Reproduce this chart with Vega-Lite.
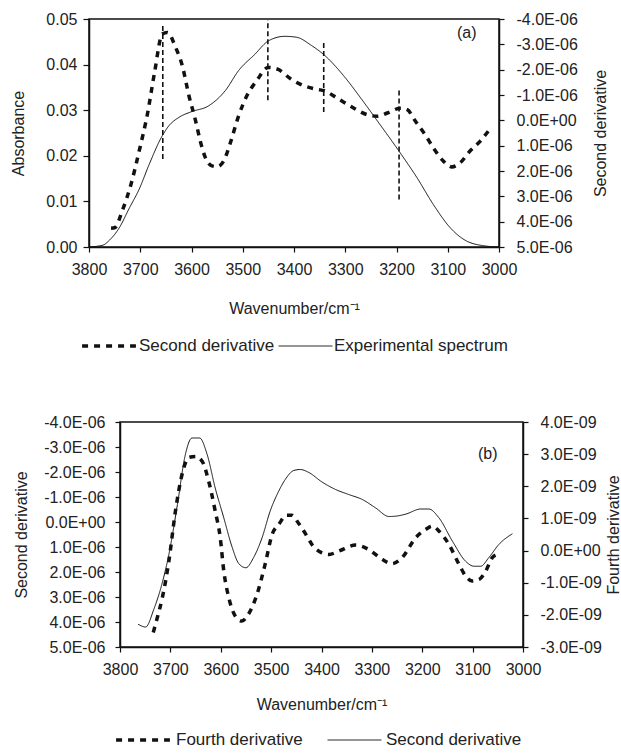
{
  "$schema": "https://vega.github.io/schema/vega-lite/v6.json",
  "background": "white",
  "padding": {"left": 10, "top": 10, "right": 0, "bottom": 0},
  "config": {
    "font": "Liberation Sans",
    "view": {"stroke": "#111", "strokeWidth": 1.5},
    "axis": {
      "grid": false, "domainColor": "#111", "domainWidth": 1.5, "tickColor": "#111", "tickWidth": 1.2,
      "labelFontSize": 16, "titleFontSize": 16, "titleFontWeight": "normal", "labelColor": "#222", "titleColor": "#222",
      "labelFont": "Liberation Sans", "titleFont": "Liberation Sans", "labelOverlap": false, "labelFlush": false, "labelBound": false
    },
    "legend": {"labelFontSize": 17, "labelColor": "#222", "labelFont": "Liberation Sans", "labelLimit": 0, "layout": {"bottom": {"anchor": "middle"}}}
  },
  "datasets": {
    "expA": [
      {"wn": 3800, "abs": 0.0, "series": "Experimental spectrum"},
      {"wn": 3773, "abs": 0.0004, "series": "Experimental spectrum"},
      {"wn": 3760, "abs": 0.0015, "series": "Experimental spectrum"},
      {"wn": 3741, "abs": 0.0042, "series": "Experimental spectrum"},
      {"wn": 3721, "abs": 0.0086, "series": "Experimental spectrum"},
      {"wn": 3702, "abs": 0.0127, "series": "Experimental spectrum"},
      {"wn": 3683, "abs": 0.018, "series": "Experimental spectrum"},
      {"wn": 3657, "abs": 0.0244, "series": "Experimental spectrum"},
      {"wn": 3644, "abs": 0.0266, "series": "Experimental spectrum"},
      {"wn": 3625, "abs": 0.0284, "series": "Experimental spectrum"},
      {"wn": 3602, "abs": 0.0296, "series": "Experimental spectrum"},
      {"wn": 3566, "abs": 0.031, "series": "Experimental spectrum"},
      {"wn": 3534, "abs": 0.0343, "series": "Experimental spectrum"},
      {"wn": 3508, "abs": 0.0387, "series": "Experimental spectrum"},
      {"wn": 3476, "abs": 0.0423, "series": "Experimental spectrum"},
      {"wn": 3450, "abs": 0.0452, "series": "Experimental spectrum"},
      {"wn": 3418, "abs": 0.0462, "series": "Experimental spectrum"},
      {"wn": 3395, "abs": 0.046, "series": "Experimental spectrum"},
      {"wn": 3366, "abs": 0.0442, "series": "Experimental spectrum"},
      {"wn": 3341, "abs": 0.0421, "series": "Experimental spectrum"},
      {"wn": 3302, "abs": 0.0374, "series": "Experimental spectrum"},
      {"wn": 3270, "abs": 0.0327, "series": "Experimental spectrum"},
      {"wn": 3237, "abs": 0.0276, "series": "Experimental spectrum"},
      {"wn": 3195, "abs": 0.021, "series": "Experimental spectrum"},
      {"wn": 3160, "abs": 0.0152, "series": "Experimental spectrum"},
      {"wn": 3128, "abs": 0.0093, "series": "Experimental spectrum"},
      {"wn": 3095, "abs": 0.0042, "series": "Experimental spectrum"},
      {"wn": 3063, "abs": 0.0013, "series": "Experimental spectrum"},
      {"wn": 3025, "abs": 0.0002, "series": "Experimental spectrum"},
      {"wn": 3000, "abs": 0.0, "series": "Experimental spectrum"}
    ],
    "d2A": [
      {"wn": 3757, "val": 4.26e-6, "series": "Second derivative"},
      {"wn": 3750, "val": 4.24e-6, "series": "Second derivative"},
      {"wn": 3734, "val": 3.51e-6, "series": "Second derivative"},
      {"wn": 3718, "val": 2.52e-6, "series": "Second derivative"},
      {"wn": 3702, "val": 1.2e-6, "series": "Second derivative"},
      {"wn": 3686, "val": -0.25e-6, "series": "Second derivative"},
      {"wn": 3672, "val": -1.9e-6, "series": "Second derivative"},
      {"wn": 3657, "val": -3.41e-6, "series": "Second derivative"},
      {"wn": 3647, "val": -3.47e-6, "series": "Second derivative"},
      {"wn": 3631, "val": -2.88e-6, "series": "Second derivative"},
      {"wn": 3618, "val": -2.16e-6, "series": "Second derivative"},
      {"wn": 3605, "val": -0.97e-6, "series": "Second derivative"},
      {"wn": 3592, "val": 0.02e-6, "series": "Second derivative"},
      {"wn": 3583, "val": 0.81e-6, "series": "Second derivative"},
      {"wn": 3573, "val": 1.47e-6, "series": "Second derivative"},
      {"wn": 3560, "val": 1.8e-6, "series": "Second derivative"},
      {"wn": 3550, "val": 1.83e-6, "series": "Second derivative"},
      {"wn": 3537, "val": 1.6e-6, "series": "Second derivative"},
      {"wn": 3525, "val": 0.94e-6, "series": "Second derivative"},
      {"wn": 3508, "val": -0.18e-6, "series": "Second derivative"},
      {"wn": 3492, "val": -0.97e-6, "series": "Second derivative"},
      {"wn": 3473, "val": -1.56e-6, "series": "Second derivative"},
      {"wn": 3450, "val": -2.09e-6, "series": "Second derivative"},
      {"wn": 3432, "val": -2.02e-6, "series": "Second derivative"},
      {"wn": 3406, "val": -1.63e-6, "series": "Second derivative"},
      {"wn": 3380, "val": -1.36e-6, "series": "Second derivative"},
      {"wn": 3354, "val": -1.22e-6, "series": "Second derivative"},
      {"wn": 3341, "val": -1.17e-6, "series": "Second derivative"},
      {"wn": 3316, "val": -0.88e-6, "series": "Second derivative"},
      {"wn": 3283, "val": -0.48e-6, "series": "Second derivative"},
      {"wn": 3257, "val": -0.22e-6, "series": "Second derivative"},
      {"wn": 3237, "val": -0.16e-6, "series": "Second derivative"},
      {"wn": 3218, "val": -0.29e-6, "series": "Second derivative"},
      {"wn": 3192, "val": -0.48e-6, "series": "Second derivative"},
      {"wn": 3179, "val": -0.42e-6, "series": "Second derivative"},
      {"wn": 3163, "val": 0.04e-6, "series": "Second derivative"},
      {"wn": 3144, "val": 0.57e-6, "series": "Second derivative"},
      {"wn": 3128, "val": 1.09e-6, "series": "Second derivative"},
      {"wn": 3108, "val": 1.62e-6, "series": "Second derivative"},
      {"wn": 3092, "val": 1.84e-6, "series": "Second derivative"},
      {"wn": 3076, "val": 1.68e-6, "series": "Second derivative"},
      {"wn": 3057, "val": 1.22e-6, "series": "Second derivative"},
      {"wn": 3037, "val": 0.83e-6, "series": "Second derivative"},
      {"wn": 3021, "val": 0.43e-6, "series": "Second derivative"}
    ],
    "rulesA": [
      {"wn": 3656, "lo": 0.0193, "hi": 0.0485},
      {"wn": 3451, "lo": 0.0322, "hi": 0.0498},
      {"wn": 3342, "lo": 0.0296, "hi": 0.0449},
      {"wn": 3195, "lo": 0.0104, "hi": 0.035}
    ],
    "labelA": [{"wn": 3063, "val": -3.44e-6, "label": "(a)"}],
    "d2B": [
      {"wn": 3764, "val": 4.09e-6, "series": "Second derivative"},
      {"wn": 3749, "val": 4.2e-6, "series": "Second derivative"},
      {"wn": 3733, "val": 3.5e-6, "series": "Second derivative"},
      {"wn": 3717, "val": 2.5e-6, "series": "Second derivative"},
      {"wn": 3703, "val": 1.3e-6, "series": "Second derivative"},
      {"wn": 3686, "val": -0.7e-6, "series": "Second derivative"},
      {"wn": 3671, "val": -2.63e-6, "series": "Second derivative"},
      {"wn": 3657, "val": -3.36e-6, "series": "Second derivative"},
      {"wn": 3642, "val": -3.36e-6, "series": "Second derivative"},
      {"wn": 3627, "val": -2.7e-6, "series": "Second derivative"},
      {"wn": 3611, "val": -1.36e-6, "series": "Second derivative"},
      {"wn": 3594, "val": -0.17e-6, "series": "Second derivative"},
      {"wn": 3578, "val": 0.97e-6, "series": "Second derivative"},
      {"wn": 3564, "val": 1.67e-6, "series": "Second derivative"},
      {"wn": 3550, "val": 1.83e-6, "series": "Second derivative"},
      {"wn": 3535, "val": 1.43e-6, "series": "Second derivative"},
      {"wn": 3518, "val": 0.63e-6, "series": "Second derivative"},
      {"wn": 3502, "val": -0.43e-6, "series": "Second derivative"},
      {"wn": 3485, "val": -1.23e-6, "series": "Second derivative"},
      {"wn": 3472, "val": -1.7e-6, "series": "Second derivative"},
      {"wn": 3455, "val": -2.06e-6, "series": "Second derivative"},
      {"wn": 3442, "val": -2.1e-6, "series": "Second derivative"},
      {"wn": 3426, "val": -1.99e-6, "series": "Second derivative"},
      {"wn": 3399, "val": -1.6e-6, "series": "Second derivative"},
      {"wn": 3372, "val": -1.3e-6, "series": "Second derivative"},
      {"wn": 3346, "val": -1.1e-6, "series": "Second derivative"},
      {"wn": 3319, "val": -0.9e-6, "series": "Second derivative"},
      {"wn": 3293, "val": -0.57e-6, "series": "Second derivative"},
      {"wn": 3266, "val": -0.22e-6, "series": "Second derivative"},
      {"wn": 3250, "val": -0.24e-6, "series": "Second derivative"},
      {"wn": 3232, "val": -0.32e-6, "series": "Second derivative"},
      {"wn": 3203, "val": -0.52e-6, "series": "Second derivative"},
      {"wn": 3187, "val": -0.52e-6, "series": "Second derivative"},
      {"wn": 3167, "val": -0.17e-6, "series": "Second derivative"},
      {"wn": 3140, "val": 0.77e-6, "series": "Second derivative"},
      {"wn": 3114, "val": 1.57e-6, "series": "Second derivative"},
      {"wn": 3097, "val": 1.77e-6, "series": "Second derivative"},
      {"wn": 3084, "val": 1.77e-6, "series": "Second derivative"},
      {"wn": 3068, "val": 1.43e-6, "series": "Second derivative"},
      {"wn": 3048, "val": 0.9e-6, "series": "Second derivative"},
      {"wn": 3021, "val": 0.47e-6, "series": "Second derivative"}
    ],
    "d4B": [
      {"wn": 3734, "val": -2.55e-9, "series": "Fourth derivative"},
      {"wn": 3726, "val": -2.09e-9, "series": "Fourth derivative"},
      {"wn": 3716, "val": -1.47e-9, "series": "Fourth derivative"},
      {"wn": 3703, "val": -0.33e-9, "series": "Fourth derivative"},
      {"wn": 3690, "val": 1.22e-9, "series": "Fourth derivative"},
      {"wn": 3677, "val": 2.36e-9, "series": "Fourth derivative"},
      {"wn": 3663, "val": 2.9e-9, "series": "Fourth derivative"},
      {"wn": 3650, "val": 2.93e-9, "series": "Fourth derivative"},
      {"wn": 3637, "val": 2.78e-9, "series": "Fourth derivative"},
      {"wn": 3624, "val": 2.16e-9, "series": "Fourth derivative"},
      {"wn": 3611, "val": 1.23e-9, "series": "Fourth derivative"},
      {"wn": 3601, "val": 0.4e-9, "series": "Fourth derivative"},
      {"wn": 3594, "val": -0.63e-9, "series": "Fourth derivative"},
      {"wn": 3584, "val": -1.47e-9, "series": "Fourth derivative"},
      {"wn": 3571, "val": -2.04e-9, "series": "Fourth derivative"},
      {"wn": 3558, "val": -2.19e-9, "series": "Fourth derivative"},
      {"wn": 3545, "val": -1.98e-9, "series": "Fourth derivative"},
      {"wn": 3528, "val": -1.36e-9, "series": "Fourth derivative"},
      {"wn": 3512, "val": -0.43e-9, "series": "Fourth derivative"},
      {"wn": 3498, "val": 0.5e-9, "series": "Fourth derivative"},
      {"wn": 3485, "val": 0.81e-9, "series": "Fourth derivative"},
      {"wn": 3469, "val": 1.1e-9, "series": "Fourth derivative"},
      {"wn": 3459, "val": 1.1e-9, "series": "Fourth derivative"},
      {"wn": 3446, "val": 0.86e-9, "series": "Fourth derivative"},
      {"wn": 3429, "val": 0.45e-9, "series": "Fourth derivative"},
      {"wn": 3419, "val": 0.19e-9, "series": "Fourth derivative"},
      {"wn": 3399, "val": -0.07e-9, "series": "Fourth derivative"},
      {"wn": 3385, "val": -0.12e-9, "series": "Fourth derivative"},
      {"wn": 3366, "val": -0.02e-9, "series": "Fourth derivative"},
      {"wn": 3332, "val": 0.17e-9, "series": "Fourth derivative"},
      {"wn": 3306, "val": 0.03e-9, "series": "Fourth derivative"},
      {"wn": 3279, "val": -0.28e-9, "series": "Fourth derivative"},
      {"wn": 3260, "val": -0.41e-9, "series": "Fourth derivative"},
      {"wn": 3240, "val": -0.22e-9, "series": "Fourth derivative"},
      {"wn": 3213, "val": 0.4e-9, "series": "Fourth derivative"},
      {"wn": 3193, "val": 0.66e-9, "series": "Fourth derivative"},
      {"wn": 3180, "val": 0.76e-9, "series": "Fourth derivative"},
      {"wn": 3167, "val": 0.61e-9, "series": "Fourth derivative"},
      {"wn": 3147, "val": 0.19e-9, "series": "Fourth derivative"},
      {"wn": 3127, "val": -0.43e-9, "series": "Fourth derivative"},
      {"wn": 3114, "val": -0.79e-9, "series": "Fourth derivative"},
      {"wn": 3101, "val": -0.95e-9, "series": "Fourth derivative"},
      {"wn": 3087, "val": -0.9e-9, "series": "Fourth derivative"},
      {"wn": 3074, "val": -0.64e-9, "series": "Fourth derivative"},
      {"wn": 3061, "val": -0.22e-9, "series": "Fourth derivative"},
      {"wn": 3051, "val": -0.12e-9, "series": "Fourth derivative"}
    ],
    "labelB": [{"wn": 3070, "val": 3.0e-9, "label": "(b)"}],
    "empty": []
  },
  "vconcat": [
    {
      "width": 410,
      "height": 228,
      "encoding": {
        "x": {
          "field": "wn", "type": "quantitative",
          "scale": {"domain": [3000, 3800], "reverse": true, "nice": false},
          "axis": {"values": [3000, 3100, 3200, 3300, 3400, 3500, 3600, 3700, 3800], "format": "d", "title": "Wavenumber/cm⁻¹", "tickSize": 5, "labelPadding": 9, "titlePadding": 23}
        }
      },
      "layer": [
        {
          "encoding": {
            "y": {"type": "quantitative", "scale": {"domain": [0, 0.05], "nice": false},
              "axis": {"orient": "left", "values": [0, 0.01, 0.02, 0.03, 0.04, 0.05], "format": ".2f", "title": "Absorbance", "tickSize": 6, "labelPadding": 6, "titlePadding": 19, "labelOverlap": false}}
          },
          "layer": [
            {
              "data": {"name": "expA"},
              "mark": {"type": "line", "color": "#111", "interpolate": "monotone"},
              "encoding": {
                "y": {"field": "abs"},
                "strokeDash": {"field": "series", "type": "nominal", "scale": {"domain": ["Second derivative", "Experimental spectrum"], "range": [[6, 6], [1, 0]]},
                  "legend": {"orient": "bottom", "direction": "horizontal", "title": null, "symbolType": "stroke", "symbolSize": 2900, "clipHeight": 20, "symbolStrokeColor": "#111", "columnPadding": 3, "labelOffset": 1, "offset": 20}},
                "strokeWidth": {"field": "series", "type": "nominal", "scale": {"domain": ["Second derivative", "Experimental spectrum"], "range": [3.5, 1]},
                  "legend": {"orient": "bottom", "direction": "horizontal", "title": null, "symbolType": "stroke", "symbolSize": 2900, "clipHeight": 20, "symbolStrokeColor": "#111", "columnPadding": 3, "labelOffset": 1, "offset": 20}}
              }
            },
            {
              "data": {"name": "rulesA"},
              "mark": {"type": "rule", "color": "#111", "strokeDash": [5, 3], "strokeWidth": 1.6},
              "encoding": {
                "y": {"field": "lo"},
                "y2": {"field": "hi"}
              }
            }
          ]
        },
        {
          "encoding": {
            "y": {"type": "quantitative", "scale": {"domain": [-4e-6, 5e-6], "reverse": true, "nice": false},
              "axis": {"orient": "right", "values": [-4e-6, -3e-6, -2e-6, -1e-6, 0, 1e-6, 2e-6, 3e-6, 4e-6, 5e-6], "labelOverlap": false,
                "labelExpr": "abs(datum.value) < 1e-12 ? '0.0E+00' : replace(format(datum.value * 1e6, '.1f'), '−', '-') + 'E-06'",
                "title": "Second derivative", "titleAngle": 270, "titleBaseline": "top", "tickSize": 5, "labelPadding": 12, "titlePadding": 15}}
          },
          "layer": [
            {
              "data": {"name": "d2A"},
              "mark": {"type": "line", "color": "#111", "interpolate": "monotone"},
              "encoding": {
                "y": {"field": "val"},
                "strokeDash": {"field": "series", "type": "nominal"},
                "strokeWidth": {"field": "series", "type": "nominal"}
              }
            },
            {
              "data": {"name": "labelA"},
              "mark": {"type": "text", "fontSize": 16, "color": "#222", "font": "Liberation Sans"},
              "encoding": {
                "y": {"field": "val"},
                "text": {"field": "label"}
              }
            }
          ]
        }
      ],
      "resolve": {"scale": {"y": "independent"}, "axis": {"y": "independent"}}
    },
    {
      "spacing": -78,
      "hconcat": [
        {
          "width": 1,
          "height": 225,
          "view": {"stroke": null},
          "data": {"name": "empty"},
          "mark": {"type": "rule"},
          "encoding": {}
        },
        {
          "width": 403,
          "height": 225,
          "encoding": {
            "x": {
              "field": "wn", "type": "quantitative",
              "scale": {"domain": [3000, 3800], "reverse": true, "nice": false},
              "axis": {"values": [3000, 3100, 3200, 3300, 3400, 3500, 3600, 3700, 3800], "format": "d", "title": "Wavenumber/cm⁻¹", "tickSize": 5, "labelPadding": 9, "titlePadding": 19}
            }
          },
          "layer": [
            {
              "data": {"name": "d2B"},
              "mark": {"type": "line", "color": "#111", "interpolate": "monotone"},
              "encoding": {
                "y": {"field": "val", "type": "quantitative", "scale": {"domain": [-4e-6, 5e-6], "reverse": true, "nice": false},
                  "axis": {"orient": "left", "values": [-4e-6, -3e-6, -2e-6, -1e-6, 0, 1e-6, 2e-6, 3e-6, 4e-6, 5e-6], "labelOverlap": false,
                    "labelExpr": "abs(datum.value) < 1e-12 ? '0.0E+00' : replace(format(datum.value * 1e6, '.1f'), '−', '-') + 'E-06'",
                    "title": "Second derivative", "tickSize": 5, "labelPadding": 10, "titlePadding": 14}},
                "strokeDash": {"field": "series", "type": "nominal", "scale": {"domain": ["Fourth derivative", "Second derivative"], "range": [[6, 6], [1, 0]]},
                  "legend": {"orient": "bottom", "direction": "horizontal", "title": null, "symbolType": "stroke", "symbolSize": 2900, "clipHeight": 20, "symbolStrokeColor": "#111", "columnPadding": 24, "labelOffset": 4, "offset": 17}},
                "strokeWidth": {"field": "series", "type": "nominal", "scale": {"domain": ["Fourth derivative", "Second derivative"], "range": [3.5, 1]},
                  "legend": {"orient": "bottom", "direction": "horizontal", "title": null, "symbolType": "stroke", "symbolSize": 2900, "clipHeight": 20, "symbolStrokeColor": "#111", "columnPadding": 24, "labelOffset": 4, "offset": 17}}
              }
            },
            {
              "encoding": {
                "y": {"type": "quantitative", "scale": {"domain": [-3e-9, 4e-9], "nice": false},
                  "axis": {"orient": "right", "values": [-3e-9, -2e-9, -1e-9, 0, 1e-9, 2e-9, 3e-9, 4e-9], "labelOverlap": false,
                    "labelExpr": "abs(datum.value) < 1e-15 ? '0.0E+00' : replace(format(datum.value * 1e9, '.1f'), '−', '-') + 'E-09'",
                    "title": "Fourth derivative", "titleAngle": 270, "titleBaseline": "top", "tickSize": 5, "labelPadding": 12, "titlePadding": 4}}
              },
              "layer": [
                {
                  "data": {"name": "d4B"},
                  "mark": {"type": "line", "color": "#111", "interpolate": "monotone"},
                  "encoding": {
                    "y": {"field": "val"},
                    "strokeDash": {"field": "series", "type": "nominal"},
                    "strokeWidth": {"field": "series", "type": "nominal"}
                  }
                },
                {
                  "data": {"name": "labelB"},
                  "mark": {"type": "text", "fontSize": 16, "color": "#222", "font": "Liberation Sans"},
                  "encoding": {
                    "y": {"field": "val"},
                    "text": {"field": "label"}
                  }
                }
              ]
            }
          ],
          "resolve": {"scale": {"y": "independent"}, "axis": {"y": "independent"}}
        }
      ]
    }
  ],
  "spacing": 56,
  "resolve": {
    "scale": {"strokeDash": "independent", "strokeWidth": "independent"},
    "legend": {"strokeDash": "independent", "strokeWidth": "independent"}
  }
}
